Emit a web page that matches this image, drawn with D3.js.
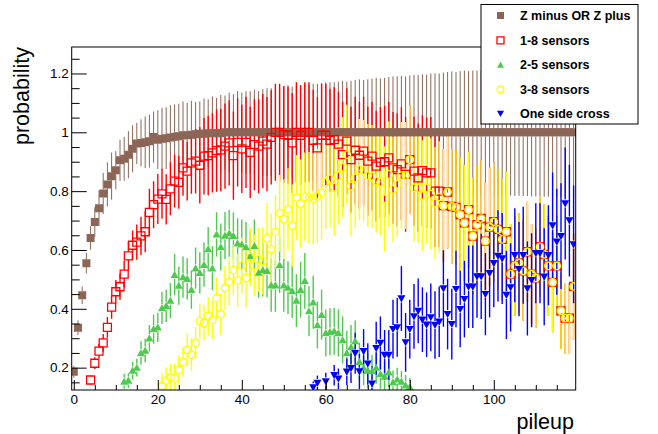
<!DOCTYPE html>
<meta charset="utf-8">
<script src="https://d3js.org/d3.v7.min.js"></script>
<body style="margin:0;background:#fff">
<svg width="658" height="434"></svg>
<script>

    // pileup bins 0..119
    var pileup = d3.range(0, 120);

    var zPlusMinus = [
      .186,.336,.446,.555,.641,.695,.742,.792,.823,.851,
      .871,.905,.91,.924,.944,.962,.964,.966,.97,.984,
      .975,.978,.98,.982,.985,.987,.99,.99,.992,.993,
      .995,.995,.997,.997,.997,.997,1,1,1,1,
      1,1,1,1,1,1,1,1,1,1,
      1,1,1,1,1,1,1,1,1,1,
      1,1,1,1,1,1,1,1,1,1,
      1,1,1,1,1,1,1,1,1,1,
      1,1,1,1,1,1,1,1,1,1,
      1,1,1,1,1,1,1,1,1,1,
      1,1,1,1,1,1,1,1,1,1,
      1,1,1,1,1,1,1,1,1,1];
    var zPlusMinusErr = [
      .02,.025,.03,.035,.04,.05,.06,.07,.075,.08,
      .065,.07,.075,.08,.08,.07,.08,.088,.09,.087,
      .1,.105,.105,.11,.11,.11,.115,.11,.115,.11,
      .11,.12,.115,.125,.12,.13,.125,.135,.13,.14,
      .135,.14,.14,.145,.14,.147,.15,.15,.155,.15,
      .155,.16,.155,.16,.16,.165,.16,.165,.165,.167,
      .17,.17,.17,.172,.175,.172,.175,.178,.18,.178,
      .18,.182,.185,.183,.185,.188,.19,.19,.192,.19,
      .193,.195,.195,.197,.196,.2,.2,.2,.203,.205,
      .207,.205,.208,.21,.208,.21,.21,.212,.212,.213,
      .212,.214,.215,.214,.215,.216,.216,.217,.217,.218,
      .218,.218,.219,.219,.22,.22,.22,.221,.221,.222];

    var sens18 = [
      null,null,null,null,.158,.215,.256,.284,.337,.406,
      .458,.475,.518,.58,.616,.627,.648,.662,.728,.754,
      .773,.791,.772,.808,.834,.83,.879,.868,.896,.902,
      .888,.919,.921,.93,.938,.94,.953,.964,.921,.966,
      .944,.966,.932,.958,.953,.97,.96,.983,1,1,
      .992,.99,.964,1,.99,1,1,.973,.947,.99,
      .99,.973,.975,.96,.924,.97,.907,.939,.922,.936,
      .902,.919,.885,.898,.9,.913,.879,.873,.893,.857,
      .907,.868,.845,.87,.862,.862,.8,.8,.751,.797,
      .748,.745,.72,.692,.737,.647,.686,.707,.63,.678,
      .696,.67,.636,.662,.518,.546,.556,.529,.594,.518,
      .505,.611,.585,.546,.49,.546,.393,.368,.368,.476];
    var sens18Err = [
      0,0,0,0,.015,.02,.025,.03,.035,.04,
      .04,.045,.045,.05,.05,.06,.065,.07,.08,.08,
      .085,.085,.085,.09,.09,.09,.095,.1,.105,.11,
      .13,.13,.135,.135,.14,.14,.145,.145,.15,.15,
      .15,.155,.155,.155,.16,.16,.16,.16,.165,.165,
      .165,.165,.17,.17,.17,.17,.17,.172,.172,.175,
      .175,.175,.178,.178,.18,.18,.18,.182,.182,.185,
      .185,.185,.188,.188,.19,.19,.19,.192,.192,.195,
      .185,.185,.185,.188,.188,.19,.19,.19,.192,.192,
      .195,.195,.195,.198,.198,.2,.2,.2,.2,.202,
      .202,.205,.205,.205,.17,.17,.17,.17,.17,.17,
      .17,.17,.17,.17,.17,.17,.13,.12,.12,.18];

    var sens25 = [
      null,null,null,null,null,null,null,null,null,null,
      null,null,.153,.156,.19,.2,.25,.258,.3,.331,
      .337,.403,.41,.428,.516,.479,.508,.502,.465,.538,
      .522,.55,.603,.538,.653,.61,.649,.657,.648,.623,
      .619,.61,.58,.614,.523,.532,.529,.48,.48,.549,
      .48,.472,.46,.428,.465,.495,.392,.422,.345,.38,
      .318,.322,.324,.318,.294,.25,.27,.29,.22,.2,
      .19,.188,.2,.178,.17,.184,.15,.16,.153,.14,
      .135,null,null,null,null,null,null,null,null,null,
      null,null,null,null,null,null,null,null,null,null,
      null,null,null,null,null,null,null,null,null,null,
      null,null,null,null,null,null,null,null,null,null];
    var sens25Err = [
      0,0,0,0,0,0,0,0,0,0,
      0,0,.025,.025,.03,.03,.04,.04,.045,.05,
      .05,.055,.055,.06,.07,.065,.07,.07,.065,.07,
      .07,.075,.075,.075,.075,.08,.08,.08,.08,.085,
      .085,.085,.085,.09,.085,.09,.09,.09,.09,.095,
      .09,.09,.09,.09,.095,.095,.085,.09,.08,.085,
      .08,.08,.08,.08,.08,.075,.075,.07,.065,.06,
      .06,.055,.055,.05,.05,.05,.04,.04,.035,.035,
      .03,0,0,0,0,0,0,0,0,0,
      0,0,0,0,0,0,0,0,0,0,
      0,0,0,0,0,0,0,0,0,0,
      0,0,0,0,0,0,0,0,0,0];

    var sens38 = [
      null,null,null,null,null,null,null,null,null,null,
      null,null,null,null,null,null,null,null,null,null,
      null,.137,.156,.167,.164,.192,.219,.26,.244,.284,
      .358,.352,.376,.362,.436,.382,.471,.492,.532,.497,
      .547,.505,.576,.548,.568,.563,.64,.603,.662,.725,
      .705,.738,.683,.778,.758,.781,.778,.774,.783,.795,
      .831,.842,.814,.852,.881,.924,.817,.845,.873,.87,
      .853,.85,.834,.83,.774,.857,.806,.823,.853,.853,
      .907,.811,.81,.785,.811,.79,.76,.78,.751,.797,
      .748,.745,.72,.692,.737,.647,.686,.707,.63,.678,
      .696,.67,.636,.662,.518,.546,.556,.529,.594,.518,
      .505,.611,.585,.546,.49,.546,.393,.368,.368,.476];
    var sens38Err = [
      0,0,0,0,0,0,0,0,0,0,
      0,0,0,0,0,0,0,0,0,0,
      0,.045,.045,.045,.05,.05,.05,.055,.055,.055,
      .06,.06,.065,.065,.07,.07,.075,.08,.085,.09,
      .095,.1,.1,.105,.11,.115,.12,.12,.125,.13,
      .135,.14,.14,.145,.15,.15,.155,.155,.16,.16,
      .16,.165,.165,.165,.17,.17,.17,.17,.172,.172,
      .175,.175,.175,.178,.178,.18,.18,.18,.182,.182,
      .185,.185,.185,.188,.188,.19,.19,.19,.192,.192,
      .195,.195,.195,.198,.198,.2,.2,.2,.2,.202,
      .202,.205,.205,.205,.17,.17,.17,.17,.17,.17,
      .17,.17,.17,.17,.17,.17,.13,.12,.12,.18];

    var oneSide = [
      null,null,null,null,null,null,null,null,null,null,
      null,null,null,null,null,null,null,null,null,null,
      null,null,null,null,null,null,null,null,null,null,
      null,null,null,null,null,null,null,null,null,null,
      null,null,null,null,null,null,null,null,null,null,
      null,null,null,null,null,null,null,.133,.148,null,
      .153,null,.174,.162,null,.186,.198,.249,.187,.256,
      .213,.145,.266,.284,.243,.243,.331,.337,.435,.286,
      .331,.374,.393,.363,.346,.371,.345,.356,.469,.382,
      .348,.467,.399,.433,.475,.475,.51,.51,.45,.521,
      .555,.58,.571,.447,.473,.582,.535,.582,.469,.497,
      .589,.589,.509,.582,.683,.628,.647,.758,.7,.619];
    var oneSideErr = [
      0,0,0,0,0,0,0,0,0,0,
      0,0,0,0,0,0,0,0,0,0,
      0,0,0,0,0,0,0,0,0,0,
      0,0,0,0,0,0,0,0,0,0,
      0,0,0,0,0,0,0,0,0,0,
      0,0,0,0,0,0,0,.02,.025,0,
      .03,0,.035,.035,0,.045,.05,.07,.06,.075,
      .07,.06,.09,.09,.085,.085,.1,.1,.11,.1,
      .1,.11,.11,.11,.11,.115,.115,.12,.13,.12,
      .12,.13,.13,.13,.14,.14,.14,.145,.14,.15,
      .15,.155,.155,.15,.15,.16,.16,.165,.16,.16,
      .17,.17,.165,.17,.18,.18,.18,.19,.19,.2];

    var yMajor = [0.2, 0.4, 0.6, 0.8, 1, 1.2];
    var yMinor = [0.15,0.25,0.3,0.35,0.45,0.5,0.55,0.65,0.7,0.75,0.85,0.9,0.95,1.05,1.1,1.15,1.25];
    var xMajor = [0, 20, 40, 60, 80, 100];
    var xMinor = [5,10,15,25,30,35,45,50,55,65,70,75,85,90,95,105,110,115];

    var series = [
      {name: "Z minus OR Z plus", v: zPlusMinus, e: zPlusMinusErr, color: "#8b6556", shape: "square", fill: true,  w: 1},
      {name: "1-8 sensors",       v: sens18,     e: sens18Err,     color: "#ff0000", shape: "square", fill: false, w: 1.4},
      {name: "2-5 sensors",       v: sens25,     e: sens25Err,     color: "#4fc94f", shape: "up",     fill: true,  w: 1.4},
      {name: "3-8 sensors",       v: sens38,     e: sens38Err,     color: "#ffff00", shape: "circle", fill: false, w: 1.4},
      {name: "One side cross",    v: oneSide,    e: oneSideErr,    color: "#0000ff", shape: "down",   fill: true,  w: 1.4}
    ];

    var frame = {l: 71.7, r: 575.7, t: 47, b: 390};
    var x = d3.scaleLinear().domain([-0.5, 119.5]).range([frame.l, frame.r]);
    var y = d3.scaleLinear().domain([0.124, 1.29]).range([frame.b, frame.t]);

    var svg = d3.select('svg');
    var font = "'Liberation Sans', Arial, Helvetica, sans-serif";

    svg.append('defs').append('clipPath').attr('id', 'clip')
       .append('rect').attr('x', frame.l).attr('y', frame.t)
       .attr('width', frame.r - frame.l).attr('height', frame.b - frame.t);

    // marker shapes, s = half size
    function markerPath(shape, s) {
        if (shape == "square") return "M" + (-s) + "," + (-s) + "h" + 2*s + "v" + 2*s + "h" + (-2*s) + "Z";
        if (shape == "up")   return "M0," + (-s) + "L" + s + "," + (0.8*s) + "L" + (-s) + "," + (0.8*s) + "Z";
        if (shape == "down") return "M0," + s + "L" + s + "," + (-0.8*s) + "L" + (-s) + "," + (-0.8*s) + "Z";
        return null;
    }
    function drawMarker(g, sr, s) {
        if (sr.shape == "circle") {
            return g.append('circle').attr('r', s)
                    .attr('fill', 'none').attr('stroke', sr.color).attr('stroke-width', 1.3);
        }
        var p = g.append('path').attr('d', markerPath(sr.shape, s));
        if (sr.fill) p.attr('fill', sr.color).attr('stroke', 'none');
        else p.attr('fill', 'none').attr('stroke', sr.color).attr('stroke-width', 1.3);
        return p;
    }
    var markSize = {square: 4, up: 4, down: 4, circle: 3.7};

    var plot = svg.append('g').attr('clip-path', 'url(#clip)');

    // error bars first (with a gap round the marker), then markers
    series.forEach(function(sr) {
        var h = markSize[sr.shape];
        var pts = pileup.filter(function(i){ return sr.v[i] != null; });
        var g = plot.append('g').attr('stroke', sr.color).attr('stroke-width', sr.w);
        pts.forEach(function(i) {
            var cx = x(i), cy = y(sr.v[i]);
            var top = y(sr.v[i] + sr.e[i]), bot = y(sr.v[i] - sr.e[i]);
            if (top < cy - h) g.append('line').attr('x1', cx).attr('x2', cx).attr('y1', top).attr('y2', cy - h);
            if (bot > cy + h) g.append('line').attr('x1', cx).attr('x2', cx).attr('y1', cy + h).attr('y2', bot);
        });
    });
    series.forEach(function(sr) {
        var pts = pileup.filter(function(i){ return sr.v[i] != null; });
        pts.forEach(function(i) {
            var g = plot.append('g').attr('transform', 'translate(' + x(i) + ',' + y(sr.v[i]) + ')');
            drawMarker(g, sr, markSize[sr.shape]);
        });
    });

    // frame
    svg.append('rect').attr('x', frame.l).attr('y', frame.t)
       .attr('width', frame.r - frame.l).attr('height', frame.b - frame.t)
       .attr('fill', 'none').attr('stroke', '#000').attr('stroke-width', 1);

    // axes, ticks inside the frame like ROOT
    var yAx = svg.append('g').attr('transform', 'translate(' + frame.l + ',0)')
        .call(d3.axisLeft(y).tickValues(yMajor).tickSize(-15).tickPadding(3).tickFormat(d3.format("~g")));
    svg.append('g').attr('transform', 'translate(' + frame.l + ',0)')
        .call(d3.axisLeft(y).tickValues(yMinor).tickSize(-8).tickFormat(""));
    var xAx = svg.append('g').attr('transform', 'translate(0,' + frame.b + ')')
        .call(d3.axisBottom(x).tickValues(xMajor).tickSize(-10).tickPadding(4.5));
    svg.append('g').attr('transform', 'translate(0,' + frame.b + ')')
        .call(d3.axisBottom(x).tickValues(xMinor).tickSize(-5).tickFormat(""));
    svg.selectAll('.domain').remove();
    svg.selectAll('.tick line').attr('stroke', '#000');
    svg.selectAll('.tick text').attr('font-family', font).attr('font-size', '13.5px').attr('fill', '#000');

    // axis titles
    svg.append('text').attr('transform', 'translate(29,' + frame.t + ') rotate(-90)')
       .attr('text-anchor', 'end').attr('font-family', font).attr('font-size', '21.5px')
       .text('probability');
    svg.append('text').attr('x', 574).attr('y', 429)
       .attr('text-anchor', 'end').attr('font-family', font).attr('font-size', '21.5px')
       .text('pileup');

    // legend
    var leg = svg.append('g');
    leg.append('rect').attr('x', 481).attr('y', 4.5).attr('width', 157).attr('height', 119.5)
       .attr('fill', '#fff').attr('stroke', '#000').attr('stroke-width', 1);
    var legY = [15.5, 40.3, 65, 89.3, 113.5];
    series.forEach(function(sr, k) {
        var g = leg.append('g').attr('transform', 'translate(500.5,' + legY[k] + ')');
        drawMarker(g, sr, sr.shape == "circle" ? 3.4 : 3.5);
        leg.append('text').attr('x', 520).attr('y', legY[k] + 4.4)
           .attr('font-family', font).attr('font-size', '12.5px').attr('font-weight', 'bold')
           .text(sr.name);
    });

</script>
</body>
